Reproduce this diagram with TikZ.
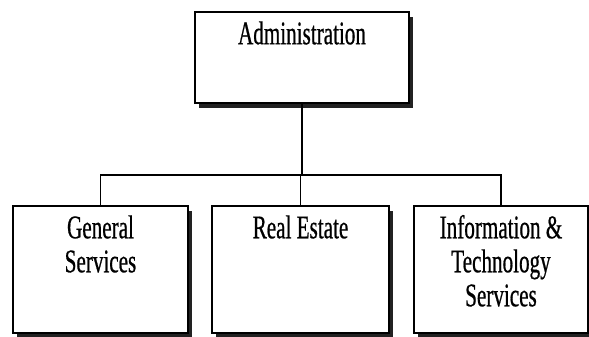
\documentclass[tikz,border=0pt]{standalone}
\usepackage{fontspec}
\usepackage{tikz}
\usetikzlibrary{positioning, shadows, calc}
\newfontfamily\orgfont[FakeStretch=0.64, FakeBold=0.6]{Liberation Serif}
\newcommand\orgsize{\fontsize{33}{34}\selectfont}
\definecolor{shadowgray}{RGB}{34,34,34}
\tikzset{
    unitbox/.style={rectangle, draw=black, fill=white, line width=1.5pt,
                    drop shadow={shadow xshift=4pt, shadow yshift=-5pt, fill=shadowgray, opacity=1}},
    unittext/.style={anchor=base, align=flush center, inner sep=0pt, font=\orgfont\orgsize},
    link/.style={line width=1.4pt, black}
}

\begin{document}
\begin{tikzpicture}[x=1pt, y=-1pt]
    \useasboundingbox (0,0) rectangle (589,337);

    % Administration
    \node[unitbox, minimum width=214pt, minimum height=91pt] (admin) at (302,57.5) {};
    \node[unittext, text width=200pt] (admintxt) at ([yshift=-33pt]admin.north) {Administration};

    % Departments
    \node[unitbox, minimum width=175pt, minimum height=127pt] (gs) at (100.5,269.5) {};
    \node[unitbox, minimum width=177pt, minimum height=127pt] (re) at (300.5,269.5) {};
    \node[unitbox, minimum width=174pt, minimum height=127pt] (its) at (501,269.5) {};
    \node[unittext, text width=165pt] (gstxt) at ([yshift=-33pt]gs.north) {General\\Services};
    \node[unittext, text width=165pt] (retxt) at ([yshift=-33pt]re.north) {Real Estate};
    \node[unittext, text width=165pt] (itstxt) at ([yshift=-33pt]its.north) {Information \&\\Technology\\Services};

    % Connectors
    \coordinate (bus) at (302,175);
    \draw[link] (admin.south) -- (bus);
    \draw[link] (gs.north) |- (bus) -| (its.north);
    \draw[link] (re.north) -- (re.north |- bus);
\end{tikzpicture}
\end{document}
